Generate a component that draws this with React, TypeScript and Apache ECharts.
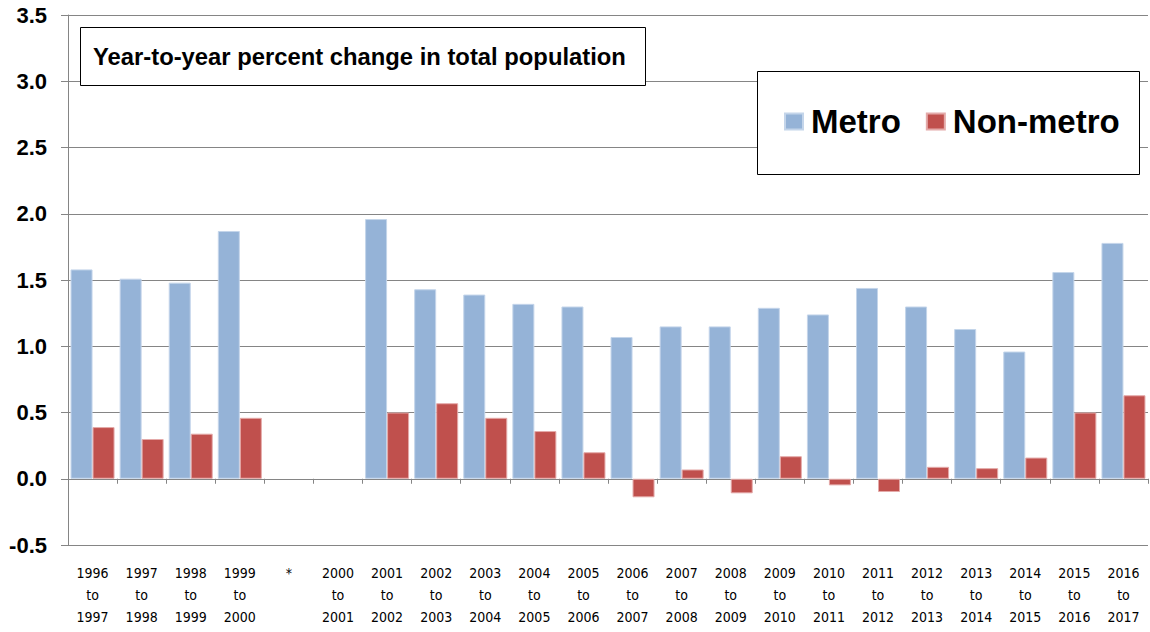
import React, { useEffect, useRef } from "react";
import * as echarts from "echarts";

const categories = [
  "1996\nto\n1997", "1997\nto\n1998", "1998\nto\n1999", "1999\nto\n2000", "*",
  "2000\nto\n2001", "2001\nto\n2002", "2002\nto\n2003", "2003\nto\n2004", "2004\nto\n2005",
  "2005\nto\n2006", "2006\nto\n2007", "2007\nto\n2008", "2008\nto\n2009", "2009\nto\n2010",
  "2010\nto\n2011", "2011\nto\n2012", "2012\nto\n2013", "2013\nto\n2014", "2014\nto\n2015",
  "2015\nto\n2016", "2016\nto\n2017",
];

const metro: (number | null)[] = [
  1.58, 1.51, 1.48, 1.87, null,
  null, 1.96, 1.43, 1.39, 1.32,
  1.30, 1.07, 1.15, 1.15, 1.29,
  1.24, 1.44, 1.30, 1.13, 0.96,
  1.56, 1.78,
];

const nonMetro: (number | null)[] = [
  0.39, 0.30, 0.34, 0.46, null,
  null, 0.50, 0.57, 0.46, 0.36,
  0.20, -0.14, 0.07, -0.11, 0.17,
  -0.05, -0.10, 0.09, 0.08, 0.16,
  0.50, 0.63,
];

const boxTitle = "Year-to-year percent change in total population";

export default function App() {
  const ref = useRef<HTMLDivElement>(null);
  useEffect(() => {
    if (!ref.current) return;
    const chart = echarts.init(ref.current, null, { renderer: "svg" });
    const gray = "#858585";
    chart.setOption({
      animation: false,
      backgroundColor: "#ffffff",
      grid: { left: 68, right: 2, top: 15, bottom: 87, containLabel: false },
      legend: {
        left: 784,
        top: 105,
        padding: 0,
        itemWidth: 18,
        itemHeight: 16,
        itemGap: 25,
        icon: "rect",
        z: 110,
        data: ["Metro", "Non-metro"],
        textStyle: {
          fontSize: 33,
          fontWeight: "bold",
          fontFamily: "Liberation Sans, Arial, sans-serif",
          color: "#000",
          padding: [0, 0, 0, 3],
        },
      },
      xAxis: [
        {
          type: "category",
          data: categories,
          axisLine: { onZero: true, lineStyle: { color: gray, width: 1 } },
          axisTick: { show: true, length: 5, lineStyle: { color: gray } },
          axisLabel: { show: false },
          splitLine: { show: false },
        },
        {
          type: "category",
          data: categories,
          position: "bottom",
          axisLine: { show: false, onZero: false },
          axisTick: { show: false },
          splitLine: { show: false },
          axisLabel: {
            interval: 0,
            margin: 17,
            fontSize: 14,
            lineHeight: 22,
            color: "#000",
            fontFamily: "DejaVu Sans Condensed, Liberation Sans Narrow, sans-serif",
          },
        },
      ],
      yAxis: {
        type: "value",
        min: -0.5,
        max: 3.5,
        interval: 0.5,
        axisLine: { show: true, lineStyle: { color: gray, width: 1 } },
        axisTick: { show: true, length: 7, lineStyle: { color: gray } },
        splitLine: { show: true, lineStyle: { color: gray, width: 1 } },
        axisLabel: {
          margin: 21,
          fontSize: 22,
          fontWeight: "bold",
          color: "#000",
          fontFamily: "Liberation Sans, Arial, sans-serif",
          formatter: (v: number) => v.toFixed(1),
        },
      },
      series: [
        {
          name: "Metro",
          type: "bar",
          xAxisIndex: 0,
          data: metro,
          barWidth: 22,
          barGap: "0%",
          itemStyle: { color: "#95B3D7", borderColor: "#C4D5EA", borderWidth: 1 },
        },
        {
          name: "Non-metro",
          type: "bar",
          xAxisIndex: 0,
          data: nonMetro,
          barWidth: 22,
          barGap: "0%",
          itemStyle: { color: "#C0504D", borderColor: "#E4AAA9", borderWidth: 1 },
        },
      ],
      graphic: [
        {
          type: "rect",
          z: 100,
          shape: { x: 80.5, y: 27.5, width: 565, height: 58 },
          style: { fill: "#ffffff", stroke: "#000000", lineWidth: 1 },
        },
        {
          type: "text",
          z: 101,
          x: 93,
          y: 56,
          style: {
            text: boxTitle,
            fontSize: 23.8,
            fontWeight: "bold",
            fontFamily: "Liberation Sans, Arial, sans-serif",
            fill: "#000",
            verticalAlign: "middle",
          },
        },
        {
          type: "rect",
          z: 100,
          shape: { x: 757.5, y: 71.5, width: 382, height: 103 },
          style: { fill: "#ffffff", stroke: "#000000", lineWidth: 1 },
        },
      ],
    });
    return () => chart.dispose();
  }, []);
  return <div ref={ref} style={{ width: 1150, height: 632, position: "absolute", left: 0, top: 0 }} />;
}
